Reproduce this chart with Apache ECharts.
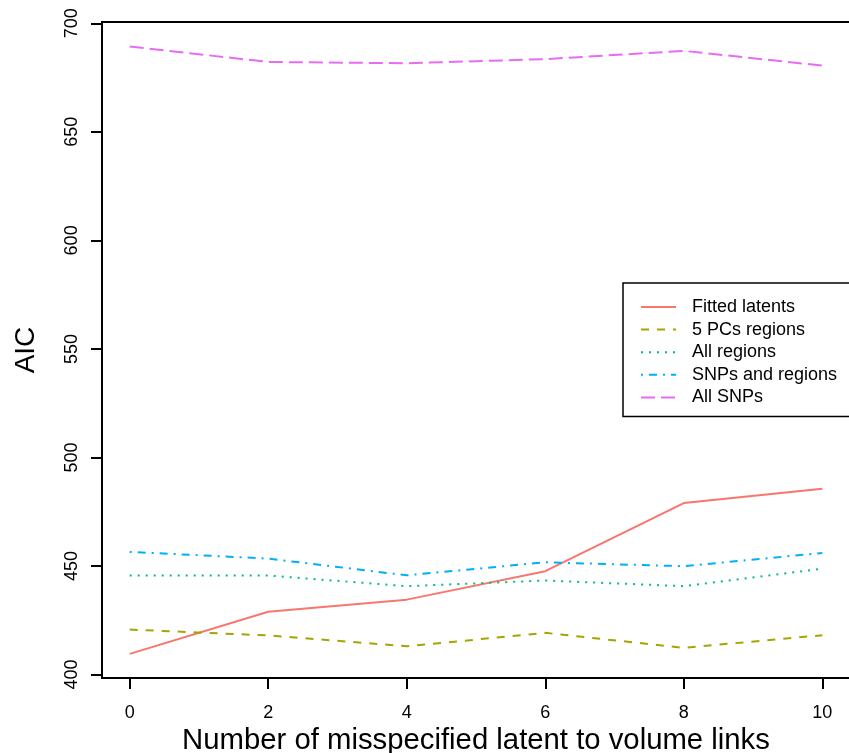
<!DOCTYPE html>
<html>
<head>
<meta charset="utf-8">
<script src="https://cdn.jsdelivr.net/npm/echarts@6/dist/echarts.min.js"></script>
<style>
html,body{margin:0;padding:0;background:#fff;}
#c{width:849px;height:753px;}
</style>
</head>
<body>
<div id="c"></div>
<script>
const xValues = [0, 2, 4, 6, 8, 10];
const xTicks = [0, 2, 4, 6, 8, 10];
const yTicks = [400, 450, 500, 550, 600, 650, 700];
const seriesNames = ["Fitted latents", "5 PCs regions", "All regions", "SNPs and regions", "All SNPs"];
const fittedLatents = [409.5, 428.9, 434.5, 447.6, 479.0, 485.6];
const pcsRegions = [420.7, 418.0, 413.0, 419.2, 412.3, 418.1];
const allRegions = [445.6, 445.6, 440.7, 443.3, 440.7, 448.7];
const snpsAndRegions = [456.5, 453.4, 445.7, 451.7, 449.9, 456.0];
const allSnps = [689.3, 682.2, 681.6, 683.5, 687.3, 680.5];

const seriesData = [fittedLatents, pcsRegions, allRegions, snpsAndRegions, allSnps];
const colors = ["#F8766D", "#A3A500", "#00BF7D", "#00B0F6", "#E76BF3"];
const dashes = ["solid", [8, 8], [2, 6], [2, 6, 8, 6], [14, 6]];
const FONT = "'Liberation Sans', Arial, Helvetica, sans-serif";

const chart = echarts.init(document.getElementById('c'), null, {renderer: 'canvas'});
chart.setOption({
  animation: false,
  backgroundColor: '#fff',
  grid: {
    left: 102, top: 22, width: 748, height: 656,
    show: true, borderColor: '#000', borderWidth: 2, backgroundColor: 'transparent',
    containLabel: false,
    outerBoundsMode: 'none'
  },
  xAxis: {
    type: 'value', min: -0.4, max: 10.4,
    name: 'Number of misspecified latent to volume links',
    nameLocation: 'middle', nameGap: 37,
    nameTextStyle: {fontFamily: FONT, fontSize: 29.3, color: '#000'},
    axisLine: {show: false, onZero: false},
    splitLine: {show: false},
    axisTick: {show: true, inside: false, length: 11, lineStyle: {color: '#000', width: 2}, customValues: xTicks},
    axisLabel: {show: true, margin: 26, fontFamily: FONT, fontSize: 18, color: '#000', customValues: xTicks}
  },
  yAxis: {
    type: 'value', min: 398.4, max: 700.6,
    name: 'AIC',
    nameLocation: 'middle', nameGap: 62, nameRotate: 90,
    nameTextStyle: {fontFamily: FONT, fontSize: 28, color: '#000'},
    axisLine: {show: false, onZero: false},
    splitLine: {show: false},
    axisTick: {show: true, inside: false, length: 11, lineStyle: {color: '#000', width: 2}, customValues: yTicks},
    axisLabel: {show: true, rotate: 90, margin: 21, fontFamily: FONT, fontSize: 18, color: '#000', customValues: yTicks}
  },
  legend: {
    orient: 'vertical',
    left: 623, top: 283,
    padding: [15, 40, 10, 17],
    borderColor: '#000', borderWidth: 1.5,
    backgroundColor: '#fff',
    itemWidth: 35, itemHeight: 14, itemGap: 4.6,
    itemStyle: {color: 'transparent', borderColor: 'transparent', borderWidth: 0, opacity: 0},
    textStyle: {fontFamily: FONT, fontSize: 18, color: '#000', lineHeight: 18, padding: [0, 0, 0, 11]},
    data: seriesNames
  },
  series: seriesNames.map((n, i) => ({
    name: n,
    type: 'line',
    data: xValues.map((x, j) => [x, seriesData[i][j]]),
    symbol: 'none',
    showSymbol: false,
    color: colors[i],
    lineStyle: {color: colors[i], width: 2, type: dashes[i]},
    z: 2
  }))
});
</script>
</body>
</html>
